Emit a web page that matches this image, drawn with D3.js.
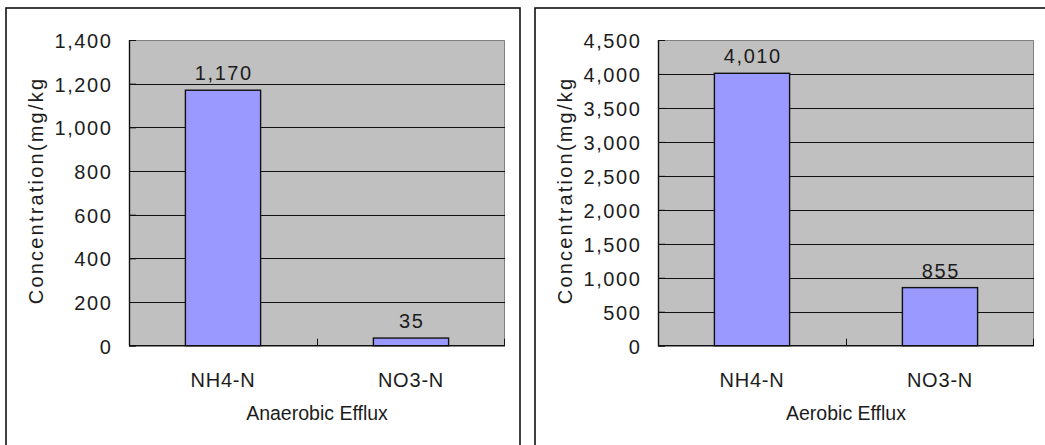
<!DOCTYPE html>
<html>
<head>
<meta charset="utf-8">
<script src="https://cdn.jsdelivr.net/npm/d3@7"></script>
<style>
  html, body { margin: 0; padding: 0; background: #fff; }
  svg { display: block; }
  text { font-family: "Liberation Sans", Arial, sans-serif; fill: #1c1c1c; }
</style>
</head>
<body>
<svg id="chart" width="1045" height="445"></svg>
<script>
// Nitrogen species measured in each efflux
const categories = ["NH4-N", "NO3-N"];
const anaerobicValues = [1170, 35];
const aerobicValues = [4010, 855];
const anaerobicTicks = [0, 200, 400, 600, 800, 1000, 1200, 1400];
const aerobicTicks = [0, 500, 1000, 1500, 2000, 2500, 3000, 3500, 4000, 4500];
const panelTitles = ["Anaerobic Efflux", "Aerobic Efflux"];
const yAxisTitle = "Concentration(mg/kg";

const panels = [
  { x: 6,   title: panelTitles[0], values: anaerobicValues, ticks: anaerobicTicks },
  { x: 535, title: panelTitles[1], values: aerobicValues,   ticks: aerobicTicks }
];

const fmt = d3.format(",");
const svg = d3.select("#chart");

const frameW = 514, frameH = 470, frameY = 8;
const plot = { left: 123, top: 32, width: 376, height: 305.7 };

panels.forEach(p => {
  const g = svg.append("g").attr("transform", `translate(${p.x},${frameY})`);

  // panel frame
  g.append("rect")
    .attr("x", 0).attr("y", 0)
    .attr("width", frameW).attr("height", frameH)
    .attr("fill", "#fff").attr("stroke", "#111").attr("stroke-width", 1.6);

  const pg = g.append("g").attr("transform", `translate(${plot.left},${plot.top})`);

  const x = d3.scaleBand()
    .domain(categories)
    .range([0, plot.width])
    .paddingInner(0.6)
    .paddingOuter(0.3);

  const yMax = p.ticks[p.ticks.length - 1];
  const y = d3.scaleLinear().domain([0, yMax]).range([plot.height, 0]);

  // plot background
  pg.append("rect")
    .attr("width", plot.width).attr("height", plot.height)
    .attr("fill", "#c0c0c0");

  // top and right edges of the plot area
  pg.append("path")
    .attr("d", `M0,0.5H${plot.width - 0.5}V${plot.height}`)
    .attr("fill", "none").attr("stroke", "#808080").attr("stroke-width", 1);

  // horizontal gridlines
  pg.append("g").selectAll("line")
    .data(p.ticks.filter(t => t > 0 && t < yMax))
    .join("line")
    .attr("x1", 0).attr("x2", plot.width)
    .attr("y1", d => Math.round(y(d)) + 0.5).attr("y2", d => Math.round(y(d)) + 0.5)
    .attr("stroke", "#111").attr("stroke-width", 1);

  // bars
  pg.append("g").selectAll("rect")
    .data(categories.map((c, i) => ({ c, v: p.values[i] })))
    .join("rect")
    .attr("x", d => x(d.c))
    .attr("y", d => y(d.v))
    .attr("width", x.bandwidth())
    .attr("height", d => plot.height - y(d.v))
    .attr("fill", "#9999ff")
    .attr("stroke", "#111").attr("stroke-width", 1.4);

  // value labels
  pg.append("g").selectAll("text")
    .data(categories.map((c, i) => ({ c, v: p.values[i] })))
    .join("text")
    .attr("x", d => x(d.c) + x.bandwidth() / 2 + 0.8)
    .attr("y", d => y(d.v) - 10)
    .attr("text-anchor", "middle")
    .style("font-size", "20px")
    .style("letter-spacing", "1.6px")
    .text(d => fmt(d.v));

  // y axis with inward ticks
  const yAxis = d3.axisLeft(y)
    .tickValues(p.ticks)
    .tickFormat(fmt)
    .tickSize(-7)
    .tickPadding(16.5);
  const ya = pg.append("g").call(yAxis);
  ya.select(".domain").attr("stroke", "#111").attr("stroke-width", 1.4)
    .attr("d", `M0.5,0V${plot.height}`);
  ya.selectAll(".tick line").attr("stroke", "#111");
  ya.selectAll(".tick text")
    .attr("fill", "#1c1c1c")
    .style("font-family", "'Liberation Sans', Arial, sans-serif")
    .style("font-size", "20px")
    .style("letter-spacing", "1.6px")
    .attr("dy", "0.38em");

  // x axis baseline with inward ticks at category boundaries
  const bounds = d3.range(categories.length + 1).map(i => i * x.step());
  pg.append("line")
    .attr("x1", 0).attr("x2", plot.width)
    .attr("y1", plot.height).attr("y2", plot.height)
    .attr("stroke", "#111").attr("stroke-width", 1.6);
  pg.append("g").selectAll("line")
    .data(bounds.slice(1))
    .join("line")
    .attr("x1", d => Math.min(d, plot.width - 1) + 0.5)
    .attr("x2", d => Math.min(d, plot.width - 1) + 0.5)
    .attr("y1", plot.height).attr("y2", plot.height - 7)
    .attr("stroke", "#111").attr("stroke-width", 1);

  // category labels
  pg.append("g").selectAll("text")
    .data(categories)
    .join("text")
    .attr("x", d => x(d) + x.bandwidth() / 2)
    .attr("y", plot.height + 41)
    .attr("text-anchor", "middle")
    .style("font-size", "20px")
    .style("letter-spacing", "0.8px")
    .text(d => d);

  // x axis title
  pg.append("text")
    .attr("x", plot.width / 2)
    .attr("y", plot.height + 73.8)
    .attr("text-anchor", "middle")
    .style("font-size", "19.5px")
    .text(p.title);

  // y axis title
  g.append("text")
    .attr("transform", `translate(37,${190.5 - frameY}) rotate(-90)`)
    .attr("text-anchor", "middle")
    .style("font-size", "20px")
    .style("letter-spacing", "2.2px")
    .text(yAxisTitle);
});
</script>
</body>
</html>
